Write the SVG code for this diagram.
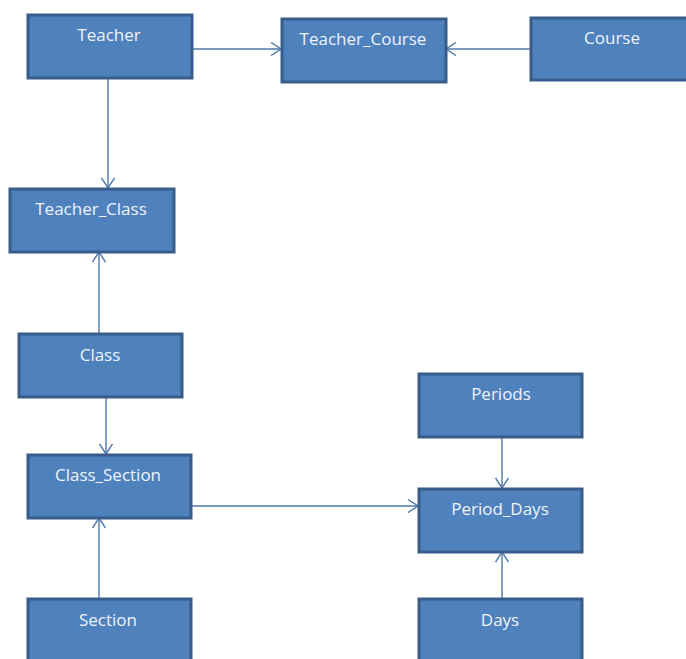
<svg xmlns="http://www.w3.org/2000/svg" width="686" height="659" viewBox="0 0 686 659">
<style>
.box{fill:#4F81BD;stroke:#385D8A;stroke-width:3}
.lbl{font-family:"Open Sans","Liberation Sans",sans-serif;font-size:17px;fill:#EEF3FA;text-anchor:middle}
.con{stroke:#5079AA;stroke-width:1.4;fill:none;marker-end:url(#arr)}
</style>
<defs>
<marker id="arr" viewBox="0 0 12 14" refX="11" refY="7" markerWidth="12" markerHeight="14" markerUnits="userSpaceOnUse" orient="auto">
<path d="M1,0.5 L11,7 L1,13.5" fill="none" stroke="#5079AA" stroke-width="1.4"/>
</marker>
</defs>
<rect width="686" height="659" fill="#FFFFFF"/>
<g id="connectors">
<line class="con" x1="192" y1="49" x2="281" y2="49"/>
<line class="con" x1="530" y1="49" x2="446" y2="49"/>
<line class="con" x1="108" y1="78" x2="108" y2="188"/>
<line class="con" x1="99" y1="333" x2="99" y2="252"/>
<line class="con" x1="106" y1="397" x2="106" y2="454"/>
<line class="con" x1="99" y1="598" x2="99" y2="518"/>
<line class="con" x1="192" y1="506" x2="418" y2="506"/>
<line class="con" x1="502" y1="438" x2="502" y2="488"/>
<line class="con" x1="502" y1="598" x2="502" y2="552"/>
</g>
<g id="teacher"><rect class="box" x="28" y="15" width="164" height="63"/><text class="lbl" x="109" y="41">Teacher</text></g>
<g id="teacher_course"><rect class="box" x="282" y="19" width="164" height="63"/><text class="lbl" x="363" y="45">Teacher_Course</text></g>
<g id="course"><rect class="box" x="531" y="18" width="164" height="62"/><text class="lbl" x="612" y="44">Course</text></g>
<g id="teacher_class"><rect class="box" x="10" y="189" width="164" height="63"/><text class="lbl" x="91" y="215">Teacher_Class</text></g>
<g id="class"><rect class="box" x="19" y="334" width="163" height="63"/><text class="lbl" x="100" y="361">Class</text></g>
<g id="class_section"><rect class="box" x="28" y="455" width="163" height="63"/><text class="lbl" x="108" y="481">Class_Section</text></g>
<g id="section"><rect class="box" x="28" y="599" width="163" height="64"/><text class="lbl" x="108" y="626">Section</text></g>
<g id="periods"><rect class="box" x="419" y="374" width="163" height="63"/><text class="lbl" x="501" y="400">Periods</text></g>
<g id="period_days"><rect class="box" x="419" y="489" width="163" height="63"/><text class="lbl" x="500" y="515">Period_Days</text></g>
<g id="days"><rect class="box" x="419" y="599" width="163" height="64"/><text class="lbl" x="500" y="626">Days</text></g>
</svg>
